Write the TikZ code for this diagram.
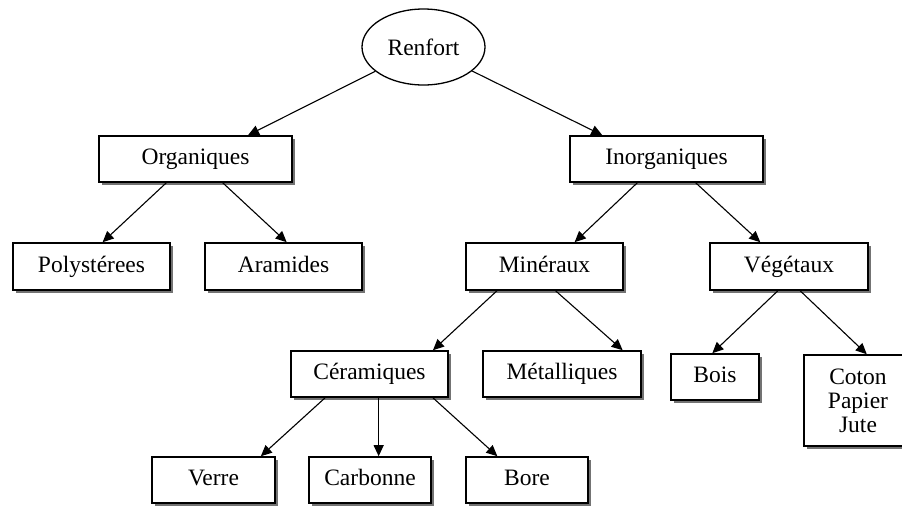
\documentclass[tikz,border=0pt]{standalone}
\usepackage{fontspec}
\setmainfont{Liberation Serif}
\usetikzlibrary{arrows.meta,shadows,calc,shapes.geometric}
\begin{document}
\begin{tikzpicture}[x=1pt,y=-1pt,
  txt/.style={font=\fontsize{23.5}{24}\selectfont},
  box/.style={txt,draw,line width=1.6pt,fill=white,inner sep=0pt,minimum height=46pt,text height=16pt,text depth=5pt,
    drop shadow={shadow xshift=3pt,shadow yshift=-3pt,fill=black!55,opacity=1}},
  oval/.style={txt,draw,line width=1.3pt,ellipse,inner sep=0pt,minimum width=123pt,minimum height=76pt},
  arr/.style={line width=1.1pt,-{Triangle[length=11pt,width=10pt]}}]
\useasboundingbox (0,0) rectangle (902,507);
\fill[white] (0,0) rectangle (902,507);
\node[oval] (renfort) at (423.5,47) {Renfort};
\node[box,minimum width=193pt] (org) at (195.5,159) {Organiques};
\node[box,minimum width=193pt] (inorg) at (666.5,159) {Inorganiques};
\node[box,minimum width=157pt,minimum height=47pt] (poly) at (91.5,266.5) {Polystérees};
\node[box,minimum width=157pt,minimum height=47pt] (ara) at (283.5,266.5) {Aramides};
\node[box,minimum width=157pt,minimum height=47pt] (min) at (544.5,266.5) {Minéraux};
\node[box,minimum width=158pt,minimum height=47pt] (veg) at (789,266.5) {Végétaux};
\node[box,minimum width=157pt] (cer) at (369.5,374) {Céramiques};
\node[box,minimum width=158pt] (met) at (562,374) {Métalliques};
\node[box,minimum width=88pt] (bois) at (715,377) {Bois};
\node[box,minimum width=108pt,minimum height=91pt,align=center,text height=,text depth=] (coton) at (858,400.5) {Coton\\Papier\\Jute};
\node[box,minimum width=123pt] (verre) at (213.5,480) {Verre};
\node[box,minimum width=122pt] (carb) at (370,480) {Carbonne};
\node[box,minimum width=122pt] (bore) at (527,480) {Bore};
\coordinate (carbtip) at ($(carb.north west)!0.57!(carb.north east)$);
\draw[arr] (renfort) -- ($(org.north west)!0.77!(org.north east)$);
\draw[arr] (renfort) -- ($(inorg.north west)!0.17!(inorg.north east)$);
\draw[arr] ($(org.south west)!0.35!(org.south east)$) -- ($(poly.north west)!0.57!(poly.north east)$);
\draw[arr] ($(org.south west)!0.64!(org.south east)$) -- ($(ara.north west)!0.52!(ara.north east)$);
\draw[arr] ($(inorg.south west)!0.35!(inorg.south east)$) -- ($(min.north west)!0.69!(min.north east)$);
\draw[arr] ($(inorg.south west)!0.65!(inorg.south east)$) -- ($(veg.north west)!0.32!(veg.north east)$);
\draw[arr] ($(min.south west)!0.20!(min.south east)$) -- ($(cer.north west)!0.90!(cer.north east)$);
\draw[arr] ($(min.south west)!0.57!(min.south east)$) -- ($(met.north west)!0.88!(met.north east)$);
\draw[arr] ($(veg.south west)!0.43!(veg.south east)$) -- ($(bois.north west)!0.47!(bois.north east)$);
\draw[arr] ($(veg.south west)!0.57!(veg.south east)$) -- ($(coton.north west)!0.58!(coton.north east)$);
\draw[arr] ($(cer.south west)!0.22!(cer.south east)$) -- ($(verre.north west)!0.88!(verre.north east)$);
\draw[arr] (carbtip |- cer.south) -- (carbtip);
\draw[arr] ($(cer.south west)!0.90!(cer.south east)$) -- ($(bore.north west)!0.26!(bore.north east)$);
\end{tikzpicture}
\end{document}
